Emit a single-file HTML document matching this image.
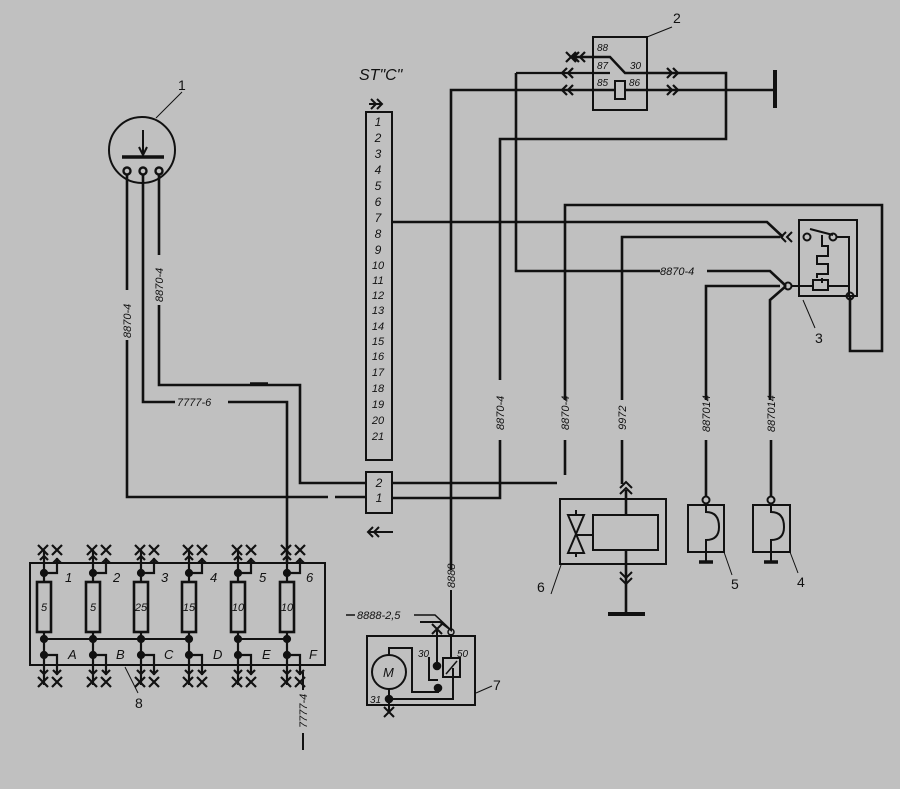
<!DOCTYPE html>
<html><head><meta charset="utf-8"><style>
html,body{margin:0;padding:0;background:#c0c0c0}
svg{display:block}
text{font-family:"Liberation Sans",sans-serif;font-style:italic;fill:#111}
.n{font-style:normal}
</style></head><body>
<svg width="900" height="789" viewBox="0 0 900 789" xmlns="http://www.w3.org/2000/svg">
<rect width="900" height="789" fill="#c0c0c0"/>
<g fill="none" stroke="#111" stroke-width="2.6" stroke-linejoin="miter">
<!-- sensor 1 -->
<circle cx="142" cy="150" r="33" stroke-width="2"/>
<line x1="122" y1="157" x2="164" y2="157" stroke-width="3.5"/>
<line x1="143" y1="130" x2="143" y2="155" stroke-width="2"/>
<path d="M139 147 L143 155 L147 147" stroke-width="2"/>
<circle cx="127" cy="171" r="3.5" stroke-width="2.4"/>
<circle cx="143" cy="171" r="3.5" stroke-width="2.4"/>
<circle cx="159" cy="171" r="3.5" stroke-width="2.4"/>
<line x1="182" y1="92" x2="156" y2="118" stroke-width="1"/>
<!-- wires from sensor -->
<path d="M127 174 V290 M127 340 V497 H328 M335 497 H367"/>
<path d="M143 174 V402 H175 M228 402 H287 V563"/>
<path d="M159 174 V255 M159 305 V385 H300 V483 H367"/>
<line x1="250" y1="384" x2="268" y2="384" stroke-width="3.5"/>
<!-- connector strip -->
<rect x="366" y="112" width="26" height="348" stroke-width="2"/>
<rect x="366" y="472" width="26" height="41" stroke-width="2"/>
<path d="M392 483 H557 M392 498 H500 V440 M500 380 V139 H726 V73 H672"/>
<path d="M392 222 H767 L783 237"/>
<!-- relay 2 -->
<rect x="593" y="37" width="54" height="73" stroke-width="2"/>
<path d="M571 57 H610 L625 73 H672" stroke-width="2.4"/>
<path d="M516 73 H610" stroke-width="2.2"/>
<path d="M451 570 V90 H672 M672 90 H775"/>
<rect x="615" y="81" width="10" height="18" fill="#c0c0c0" stroke-width="2"/>
<line x1="775" y1="70" x2="775" y2="108" stroke-width="4"/>
<path d="M516 73 V271 H660 M707 271 H770 L786 286"/>
<line x1="672" y1="27" x2="647" y2="37" stroke-width="1"/>
<!-- relay 3 -->
<path d="M565 400 V205 H882 V351 H850 V296"/>
<path d="M565 440 V475"/>
<rect x="799" y="220" width="58" height="76" stroke-width="2"/>
<path d="M622 400 V237 H780" />
<path d="M622 440 V484"/>
<circle cx="807" cy="237" r="3.5" stroke-width="2"/>
<circle cx="833" cy="237" r="3.5" stroke-width="2"/>
<path d="M810 229 L833 235 M837 237 H849 V296" stroke-width="2"/>
<path d="M822 235 V246 H828 V256 H817 V264 H828 V274 H817 V278 M822 278 V283" stroke-width="2"/>
<rect x="813" y="280" width="15" height="10" stroke-width="2"/>
<path d="M791 286 H813 M828 286 H849" stroke-width="2"/>
<circle cx="788" cy="286" r="3.5" stroke-width="2"/>
<circle cx="850" cy="296" r="3.5" stroke-width="2"/>
<path d="M706 400 V286 H780 M786 286 L770 300 V400"/>
<path d="M706 440 V497 M771 440 V497"/>
<line x1="803" y1="300" x2="815" y2="328" stroke-width="1"/>
<!-- box 6 -->
<rect x="560" y="499" width="106" height="65" stroke-width="2"/>
<rect x="593" y="515" width="65" height="35" stroke-width="2"/>
<path d="M568 515 H584 L568 553 H584 Z M576 535 H593 M576 510 V515 M576 553 V557" stroke-width="2"/>
<path d="M626 490 V515 M626 550 V612"/>
<line x1="608" y1="614" x2="645" y2="614" stroke-width="4"/>
<path d="M620 494 L626 488 L632 494 M620 488 L626 482 L632 488" stroke-width="2"/>
<path d="M620 572 L626 578 L632 572 M620 578 L626 584 L632 578" stroke-width="2"/>
<line x1="551" y1="594" x2="561" y2="565" stroke-width="1"/>
<!-- 5 and 4 -->
<rect x="688" y="505" width="36" height="47" stroke-width="2"/>
<rect x="753" y="505" width="37" height="47" stroke-width="2"/>
<circle cx="706" cy="500" r="3.5" stroke-width="2"/>
<circle cx="771" cy="500" r="3.5" stroke-width="2"/>
<path d="M706 504 V512 Q719 512 719 527 Q719 540 706 540 V562" stroke-width="2"/>
<path d="M771 504 V512 Q784 512 784 527 Q784 540 771 540 V562" stroke-width="2"/>
<line x1="699" y1="562" x2="713" y2="562" stroke-width="3.5"/>
<line x1="764" y1="562" x2="778" y2="562" stroke-width="3.5"/>
<line x1="724" y1="552" x2="732" y2="575" stroke-width="1"/>
<line x1="790" y1="552" x2="798" y2="573" stroke-width="1"/>
<!-- motor 7 -->
<path d="M451 590 V630 L440 622 H420" stroke-width="2"/>
<path d="M346 615 H355 M414 615 H435 L451 630" stroke-width="1.5"/>
<rect x="367" y="636" width="108" height="69" stroke-width="2"/>
<circle cx="389" cy="672" r="17" stroke-width="2"/>
<path d="M389 655 V648 H412 V692 H438 V688 M389 689 V699 H453 V668" stroke-width="2"/>
<path d="M437 630 V665 M451 634 V658" stroke-width="2"/>
<rect x="443" y="658" width="17" height="19" stroke-width="2"/>
<line x1="446" y1="674" x2="457" y2="661" stroke-width="1.5"/>
<path d="M429 657 V680 H438" stroke-width="2"/>
<circle cx="437" cy="666" r="3" fill="#111"/>
<circle cx="438" cy="688" r="3" fill="#111"/>
<circle cx="389" cy="699" r="3" fill="#111"/>
<circle cx="451" cy="632" r="3" stroke-width="1.5"/>
<path d="M432 624 L442 634 M442 624 L432 634" stroke-width="2"/>
<path d="M384 707 L394 717 M394 707 L384 717 M389 702 V712" stroke-width="2"/>
<line x1="476" y1="693" x2="492" y2="686" stroke-width="1"/>
<!-- fusebox 8 -->
<rect x="30" y="563" width="295" height="102" stroke-width="2"/>
<path d="M44 639 H189 M238 639 H287" stroke-width="2"/>
<line x1="125" y1="667" x2="138" y2="693" stroke-width="1"/>
<path d="M303 672 V690 M303 733 V750" stroke-width="2"/>
</g>
<g fill="#111" stroke="#111" stroke-width="2.2" fill-opacity="1">
<g id="f">
<rect x="37" y="582" width="14" height="50" fill="none" stroke-width="2.6"/>
<path d="M44 550 V582 M44 632 V685 M44 573 H57 V558 M44 655 H57 V675" fill="none"/>
<circle cx="44" cy="573" r="3"/><circle cx="44" cy="639" r="3"/><circle cx="44" cy="655" r="3"/>
<path d="M38 545 L48 555 M48 545 L38 555 M52 545 L62 555 M62 545 L52 555" fill="none"/>
<path d="M40 560 L44 556 L48 560 M53 563 L57 559 L61 563" fill="none"/>
<path d="M38 677 L48 687 M48 677 L38 687 M52 677 L62 687 M62 677 L52 687" fill="none"/>
<path d="M40 670 L44 674 L48 670 M53 670 L57 674 L61 670" fill="none"/>
</g>
<use href="#f" x="49"/><use href="#f" x="97"/><use href="#f" x="145"/><use href="#f" x="194"/><use href="#f" x="243"/>
<path d="M566 52 L576 62 M576 52 L566 62 M579 52 L574 57 L579 62 M585 52 L580 57 L585 62" fill="none"/>
<path d="M567 68 L562 73 L567 78 M573 68 L568 73 L573 78 M567 85 L562 90 L567 95 M573 85 L568 90 L573 95" fill="none"/>
<path d="M667 68 L672 73 L667 78 M673 68 L678 73 L673 78 M667 85 L672 90 L667 95 M673 85 L678 90 L673 95" fill="none"/>
<path d="M786 232 L781 237 L786 242 M792 232 L787 237 L792 242" fill="none" stroke-width="2"/>
<path d="M371 99 L376 104 L371 109 M377 99 L382 104 L377 109 M369 104 H382" fill="none" stroke-width="2"/>
<path d="M373 527 L368 532 L373 537 M379 527 L374 532 L379 537 M368 532 H393" fill="none" stroke-width="2"/>
</g>
<g font-size="14">
<text class="n" x="178" y="90">1</text>
<text class="n" x="673" y="23">2</text>
<text class="n" x="815" y="343">3</text>
<text class="n" x="797" y="587">4</text>
<text class="n" x="731" y="589">5</text>
<text class="n" x="537" y="592">6</text>
<text class="n" x="493" y="690">7</text>
<text class="n" x="135" y="708">8</text>
</g>
<text x="359" y="80" font-size="16">ST"C"</text>
<g font-size="12" text-anchor="middle">
<text x="378" y="126">1</text><text x="378" y="142">2</text><text x="378" y="158">3</text><text x="378" y="174">4</text><text x="378" y="190">5</text><text x="378" y="206">6</text><text x="378" y="222">7</text><text x="378" y="238">8</text><text x="378" y="254">9</text><text x="378" y="269" font-size="11">10</text><text x="378" y="284" font-size="11">11</text><text x="378" y="299" font-size="11">12</text><text x="378" y="314" font-size="11">13</text><text x="378" y="330" font-size="11">14</text><text x="378" y="345" font-size="11">15</text><text x="378" y="360" font-size="11">16</text><text x="378" y="376" font-size="11">17</text><text x="378" y="392" font-size="11">18</text><text x="378" y="408" font-size="11">19</text><text x="378" y="424" font-size="11">20</text><text x="378" y="440" font-size="11">21</text>
<text x="379" y="487">2</text><text x="379" y="502">1</text>
</g>
<g font-size="10">
<text x="597" y="51">88</text><text x="597" y="69">87</text><text x="597" y="86">85</text>
<text x="630" y="69">30</text><text x="629" y="86">86</text>
<text x="418" y="657">30</text><text x="457" y="657">50</text><text x="370" y="703">31</text>
<text x="383" y="677" font-size="13">M</text>
<text x="660" y="275" font-size="11">8870-4</text>
<text x="177" y="406" font-size="11">7777-6</text>
<text x="357" y="619" font-size="11">8888-2,5</text>
</g>
<g font-size="11">
<text transform="translate(131,338) rotate(-90)">8870-4</text>
<text transform="translate(163,302) rotate(-90)">8870-4</text>
<text transform="translate(504,430) rotate(-90)">8870-4</text>
<text transform="translate(569,430) rotate(-90)">8870-4</text>
<text transform="translate(626,430) rotate(-90)">9972</text>
<text transform="translate(710,432) rotate(-90)">887014</text>
<text transform="translate(775,432) rotate(-90)">887014</text>
<text transform="translate(455,588) rotate(-90)">8888</text>
<text transform="translate(307,728) rotate(-90)">7777-4</text>
</g>
<g font-size="13">
<text x="65" y="582">1</text><text x="113" y="582">2</text><text x="161" y="582">3</text><text x="210" y="582">4</text><text x="259" y="582">5</text><text x="306" y="582">6</text>
<text x="68" y="659">A</text><text x="116" y="659">B</text><text x="164" y="659">C</text><text x="213" y="659">D</text><text x="262" y="659">E</text><text x="309" y="659">F</text>
</g>
<g font-size="11" text-anchor="middle">
<text x="44" y="611">5</text><text x="93" y="611">5</text><text x="141" y="611">25</text><text x="189" y="611">15</text><text x="238" y="611">10</text><text x="287" y="611">10</text>
</g>
</svg>
</body></html>
